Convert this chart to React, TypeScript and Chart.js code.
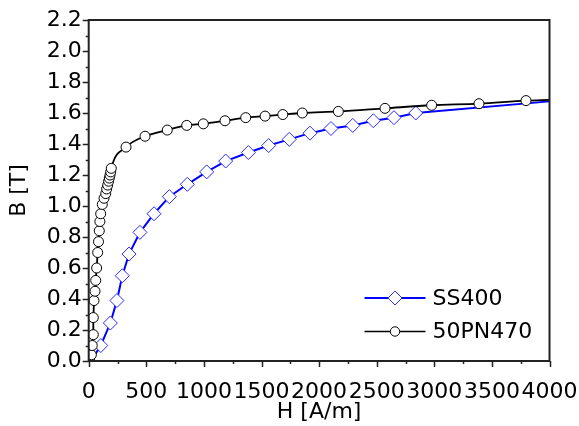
import React, { useEffect, useRef } from "react";
import { Chart, registerables } from "chart.js";

Chart.register(...registerables);

// ---- data ----
const SS400_H = [20, 105, 188, 245, 292, 350, 445, 567, 700, 856, 1024, 1189, 1386, 1562, 1741, 1921, 2103, 2292, 2471, 2650, 2839, 4000];
const SS400_B = [0.0, 0.10, 0.245, 0.39, 0.55, 0.69, 0.83, 0.95, 1.06, 1.14, 1.22, 1.29, 1.345, 1.39, 1.43, 1.47, 1.50, 1.52, 1.55, 1.57, 1.60, 1.675];

const PN470_H = [10, 23, 31, 40, 40, 46, 55, 61, 69, 78, 85, 92, 97, 104, 118, 133, 148, 156, 165, 173, 179, 185, 191, 196, 324, 489, 682, 851, 995, 1183, 1363, 1531, 1685, 1854, 2167, 2572, 2977, 3388, 3796, 4000];
const PN470_B = [0.0, 0.04, 0.10, 0.17, 0.28, 0.39, 0.45, 0.52, 0.60, 0.70, 0.77, 0.84, 0.90, 0.95, 1.01, 1.05, 1.08, 1.11, 1.135, 1.16, 1.18, 1.20, 1.22, 1.243, 1.38, 1.45, 1.49, 1.52, 1.53, 1.55, 1.57, 1.58, 1.59, 1.60, 1.61, 1.63, 1.65, 1.66, 1.68, 1.685];

const SERIES_LABELS = ["SS400", "50PN470"];
const X_MIN = 0, X_MAX = 4000, X_MAJOR = 500, X_MINOR = 250;
const Y_MIN = 0, Y_MAX = 2.2, Y_MAJOR = 0.2, Y_MINOR = 0.1;
const X_TITLE = "H [A/m]";
const Y_TITLE = "B [T]";

const FONT = "'DejaVu Sans', Verdana, sans-serif";
const FONT_SIZE = 22;

const framePlugin = {
  id: "frame",
  afterDraw(chart: any) {
    const { ctx, chartArea, scales } = chart;
    const { left, right, top, bottom } = chartArea;
    const xs = scales.x, ys = scales.y;
    ctx.save();
    ctx.strokeStyle = "#222";
    ctx.lineWidth = 2;
    ctx.strokeRect(left, top, right - left, bottom - top);
    ctx.lineWidth = 1.5;
    ctx.beginPath();
    const nx = Math.round((X_MAX - X_MIN) / X_MINOR);
    for (let i = 0; i <= nx; i++) {
      const v = X_MIN + i * X_MINOR;
      const px = Math.round(xs.getPixelForValue(v)) + 0.5;
      const len = i % Math.round(X_MAJOR / X_MINOR) === 0 ? 6 : 3;
      ctx.moveTo(px, bottom);
      ctx.lineTo(px, bottom + len);
    }
    const ny = Math.round((Y_MAX - Y_MIN) / Y_MINOR);
    for (let i = 0; i <= ny; i++) {
      const v = Y_MIN + i * Y_MINOR;
      const py = Math.round(ys.getPixelForValue(v)) + 0.5;
      const len = i % Math.round(Y_MAJOR / Y_MINOR) === 0 ? 6 : 3;
      ctx.moveTo(left, py);
      ctx.lineTo(left - len, py);
    }
    ctx.stroke();

    // legend
    const ds = chart.data.datasets;
    [0, 1].forEach((di, r) => {
      const d = ds[di];
      const y = bottom - 63 + r * 33.5;
      const x0 = right - 185, x1 = right - 124;
      ctx.strokeStyle = d.borderColor;
      ctx.lineWidth = di === 0 ? 2 : 1.5;
      ctx.beginPath();
      ctx.moveTo(x0, y);
      ctx.lineTo(x1, y);
      ctx.stroke();
      const cx = (x0 + x1) / 2;
      ctx.fillStyle = "#fff";
      ctx.strokeStyle = d.pointBorderColor;
      ctx.lineWidth = 1;
      ctx.beginPath();
      if (di === 0) {
        const r2 = 7;
        ctx.moveTo(cx, y - r2);
        ctx.lineTo(cx + r2, y);
        ctx.lineTo(cx, y + r2);
        ctx.lineTo(cx - r2, y);
        ctx.closePath();
      } else {
        ctx.arc(cx, y, 4.7, 0, Math.PI * 2);
      }
      ctx.fill();
      ctx.stroke();
      ctx.fillStyle = "#000";
      ctx.font = `${FONT_SIZE}px ${FONT}`;
      ctx.textBaseline = "middle";
      ctx.textAlign = "left";
      ctx.fillText(d.label, right - 117, y + 1);
    });
    ctx.restore();
  },
};

export default function App() {
  const ref = useRef<HTMLCanvasElement>(null);
  useEffect(() => {
    document.body.style.margin = "0";
    const ctx = ref.current!;
    const ss = SS400_H.map((h, i) => ({ x: h, y: SS400_B[i] }));
    const pn = PN470_H.map((h, i) => ({ x: h, y: PN470_B[i] }));
    const chart = new Chart(ctx, {
      type: "line",
      data: {
        datasets: [
          {
            label: SERIES_LABELS[0],
            data: ss,
            borderColor: "#0000ff",
            borderWidth: 2,
            pointStyle: "rectRot",
            pointRadius: (c: any) => (c.dataIndex === 0 || c.dataIndex === ss.length - 1 ? 0 : 7),
            pointBorderColor: "#2a2aff",
            pointBackgroundColor: "#fff",
            pointBorderWidth: 1,
            tension: 0,
            order: 1,
          },
          {
            label: SERIES_LABELS[1],
            data: pn,
            borderColor: "#000",
            borderWidth: 1.8,
            pointStyle: "circle",
            pointRadius: (c: any) => (c.dataIndex === pn.length - 1 ? 0 : 5),
            pointBorderColor: "#000",
            pointBackgroundColor: "#fff",
            pointBorderWidth: 1,
            cubicInterpolationMode: "monotone",
            order: 0,
          },
        ],
      },
      options: {
        responsive: false,
        animation: false,
        events: [],
        layout: { padding: { left: 0, top: 20, right: 29.5, bottom: 0 } },
        plugins: { legend: { display: false }, tooltip: { enabled: false } },
        scales: {
          x: {
            type: "linear",
            min: X_MIN,
            max: X_MAX,
            grid: { display: false, drawTicks: false },
            border: { display: false },
            ticks: {
              stepSize: X_MAJOR,
              color: "#000",
              font: { family: FONT, size: FONT_SIZE },
              padding: 18,
              maxRotation: 0,
              autoSkip: false,
              callback: (v: any) => String(v),
            },
            title: { display: true, text: X_TITLE, color: "#000", font: { family: FONT, size: FONT_SIZE }, padding: { top: 0, bottom: 1 } },
            afterFit: (s: any) => { s.height = 65; s.paddingLeft = 0; s.paddingRight = 0; },
          },
          y: {
            type: "linear",
            min: Y_MIN,
            max: Y_MAX,
            grid: { display: false, drawTicks: false },
            border: { display: false },
            ticks: {
              stepSize: Y_MAJOR,
              color: "#000",
              font: { family: FONT, size: FONT_SIZE },
              padding: 7,
              autoSkip: false,
              callback: (v: any) => Number(v).toFixed(1),
            },
            title: { display: true, text: Y_TITLE, color: "#000", font: { family: FONT, size: FONT_SIZE }, padding: { top: 6, bottom: 0 } },
            afterFit: (s: any) => { s.width = 88.7; s.paddingTop = 0; s.paddingBottom = 0; },
          },
        },
      },
      plugins: [framePlugin],
    } as any);
    return () => chart.destroy();
  }, []);
  return <canvas ref={ref} width={579} height={426} style={{ display: "block" }} />;
}
